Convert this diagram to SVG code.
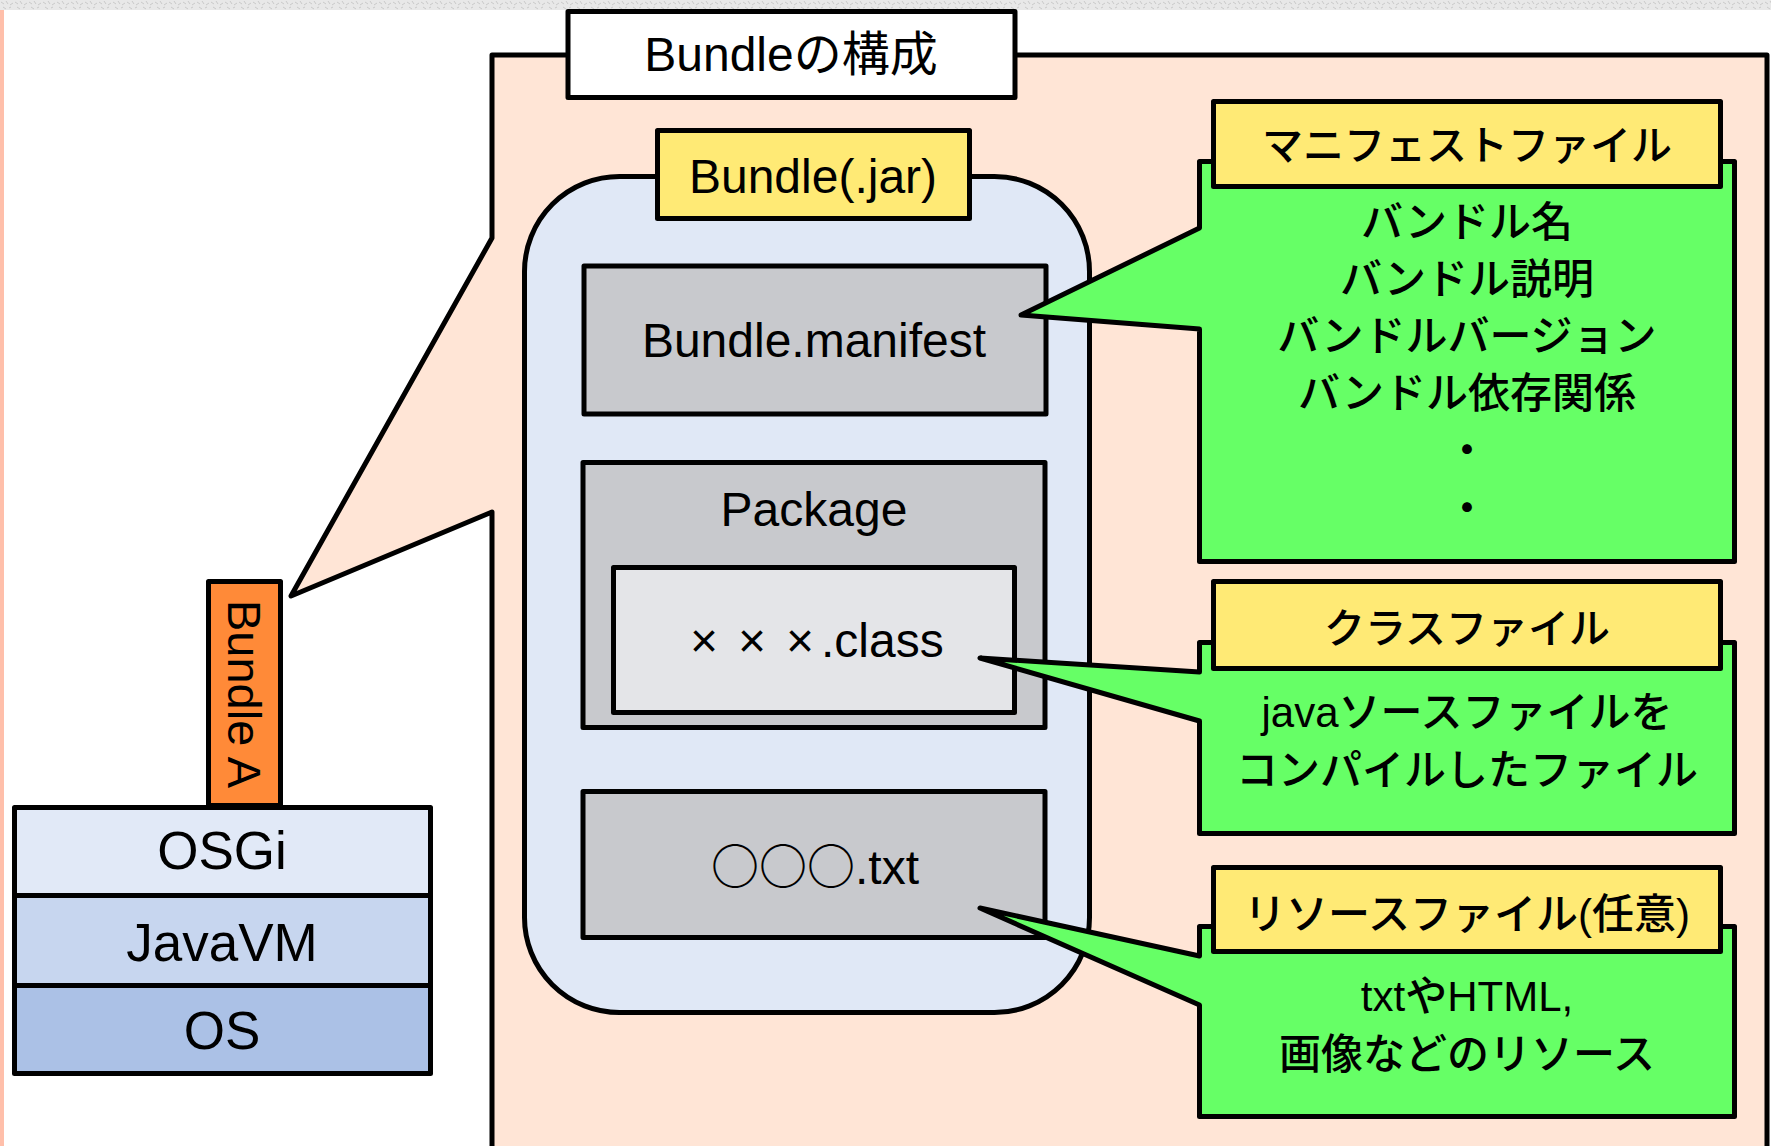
<svg xmlns="http://www.w3.org/2000/svg" width="1771" height="1146" viewBox="0 0 1771 1146">
  <defs>
    <pattern id="grain" width="14" height="10" patternUnits="userSpaceOnUse">
      <rect width="14" height="10" fill="#E8E8E8"/>
      <path d="M1,2 l3,2 M6,1 l2,3 M10,5 l3,-2 M3,7 l3,2 M9,8 l2,-1" stroke="#C9C9C9" stroke-width="1"/>
    </pattern>
    <style>
      .ln { stroke: #000; stroke-width: 5; stroke-linejoin: round; }
      .t { font-family: "Liberation Sans", "Noto Sans CJK JP", sans-serif; fill: #000; text-anchor: middle; }
      .lat { font-size: 48px; }
      .jp { font-size: 42px; font-weight: 500; }
      .hd { font-size: 41px; font-weight: 500; }
      .stk { font-size: 53px; }
      .peach { fill: #FFE5D6; }
      .jar { fill: #E0E8F6; }
      .grey { fill: #C8C9CD; }
      .light { fill: #E4E5E8; }
      .yellow { fill: #FFEA75; }
      .green { fill: #66FF66; }
    </style>
  </defs>

  <!-- page background, grainy top strip and pink left margin -->
  <rect width="1771" height="1146" fill="#FFFFFF"/>
  <rect x="0" y="0" width="1771" height="10" fill="url(#grain)"/>
  <rect x="0" y="10" width="4" height="1136" fill="#FFBFAA"/>

  <!-- enlarged view panel pointing at Bundle A -->
  <g id="panel">
    <path class="ln peach" d="M492,55 H1767 V1160 H492 V512 L291,596 L492,238 Z"/>
  </g>

  <g id="title">
    <rect class="ln" x="568" y="11.5" width="447" height="86" fill="#FFFFFF"/>
    <text class="t" x="791" y="71" font-size="48">Bundleの構成</text>
  </g>

  <!-- jar container -->
  <g id="bundle-jar">
    <rect class="ln jar" x="524.5" y="176.5" width="565" height="836" rx="95" ry="95"/>
    <rect class="ln yellow" x="657.5" y="130.5" width="312" height="88"/>
    <text class="t lat" x="813" y="193">Bundle(.jar)</text>
  </g>

  <g id="manifest-file">
    <rect class="ln grey" x="584" y="266" width="462" height="148"/>
    <text class="t lat" x="814" y="357">Bundle.manifest</text>
  </g>

  <g id="package">
    <rect class="ln grey" x="583" y="462.5" width="462" height="265"/>
    <text class="t lat" x="814" y="526">Package</text>
  </g>

  <g id="class-file">
    <rect class="ln light" x="613.5" y="567.5" width="401" height="145"/>
    <text class="t lat" style="text-anchor:start" y="657"><tspan x="690">×</tspan><tspan x="738">×</tspan><tspan x="786">×</tspan><tspan x="821">.class</tspan></text>
  </g>

  <g id="resource-file">
    <rect class="ln grey" x="583" y="791.5" width="462" height="146"/>
    <text class="t lat" x="815" y="884"><tspan font-family="Noto Sans CJK JP, sans-serif" font-weight="500">○○○</tspan>.txt</text>
  </g>

  <!-- callouts describing each part -->
  <g id="callout-manifest">
    <path class="ln green" d="M1199.5,161.5 H1734.5 V561.5 H1199.5 V329 L1021,315 L1199.5,228 Z"/>
    <rect class="ln yellow" x="1213.5" y="101.5" width="507" height="85"/>
    <text class="t hd" x="1467" y="160" font-size="40">マニフェストファイル</text>
    <text class="t jp" x="1467" y="237">バンドル名</text>
    <text class="t jp" x="1467" y="294">バンドル説明</text>
    <text class="t jp" x="1467" y="351">バンドルバージョン</text>
    <text class="t jp" x="1467" y="408">バンドル依存関係</text>
    <text class="t jp" x="1467" y="465">・</text>
    <text class="t jp" x="1467" y="523">・</text>
  </g>

  <g id="callout-class">
    <path class="ln green" d="M1199.5,642.5 H1734.5 V833.5 H1199.5 V721 L980,658 L1199.5,672 Z"/>
    <rect class="ln yellow" x="1213.5" y="581.5" width="507" height="87"/>
    <text class="t hd" x="1467" y="643">クラスファイル</text>
    <text class="t jp" x="1467" y="727">javaソースファイルを</text>
    <text class="t jp" x="1467" y="785">コンパイルしたファイル</text>
  </g>

  <g id="callout-resource">
    <path class="ln green" d="M1199.5,926.5 H1734.5 V1116.5 H1199.5 V1005 L980,908 L1199.5,956 Z"/>
    <rect class="ln yellow" x="1213.5" y="867.5" width="507" height="84"/>
    <text class="t hd" x="1467" y="929" style="font-size:42px">リソースファイル(任意)</text>
    <text class="t jp" x="1467" y="1011">txtやHTML,</text>
    <text class="t jp" x="1467" y="1069">画像などのリソース</text>
  </g>

  <!-- platform stack -->
  <g id="bundle-a">
    <rect class="ln" x="208.5" y="581.5" width="72" height="224" fill="#FF8A38"/>
    <text class="t" font-size="47" transform="translate(228,694) rotate(90)" x="0" y="0">Bundle A</text>
  </g>
  <g id="osgi">
    <rect class="ln" x="14.5" y="807.5" width="416" height="88" fill="#E1E9F7"/>
    <text class="t stk" x="222" y="869">OSGi</text>
  </g>
  <g id="javavm">
    <rect class="ln" x="14.5" y="895.5" width="416" height="90" fill="#C7D6EF"/>
    <text class="t stk" x="222" y="961">JavaVM</text>
  </g>
  <g id="os">
    <rect class="ln" x="14.5" y="985.5" width="416" height="88" fill="#ABC1E6"/>
    <text class="t stk" x="222" y="1049">OS</text>
  </g>

  <g id="connectors"/>
</svg>
